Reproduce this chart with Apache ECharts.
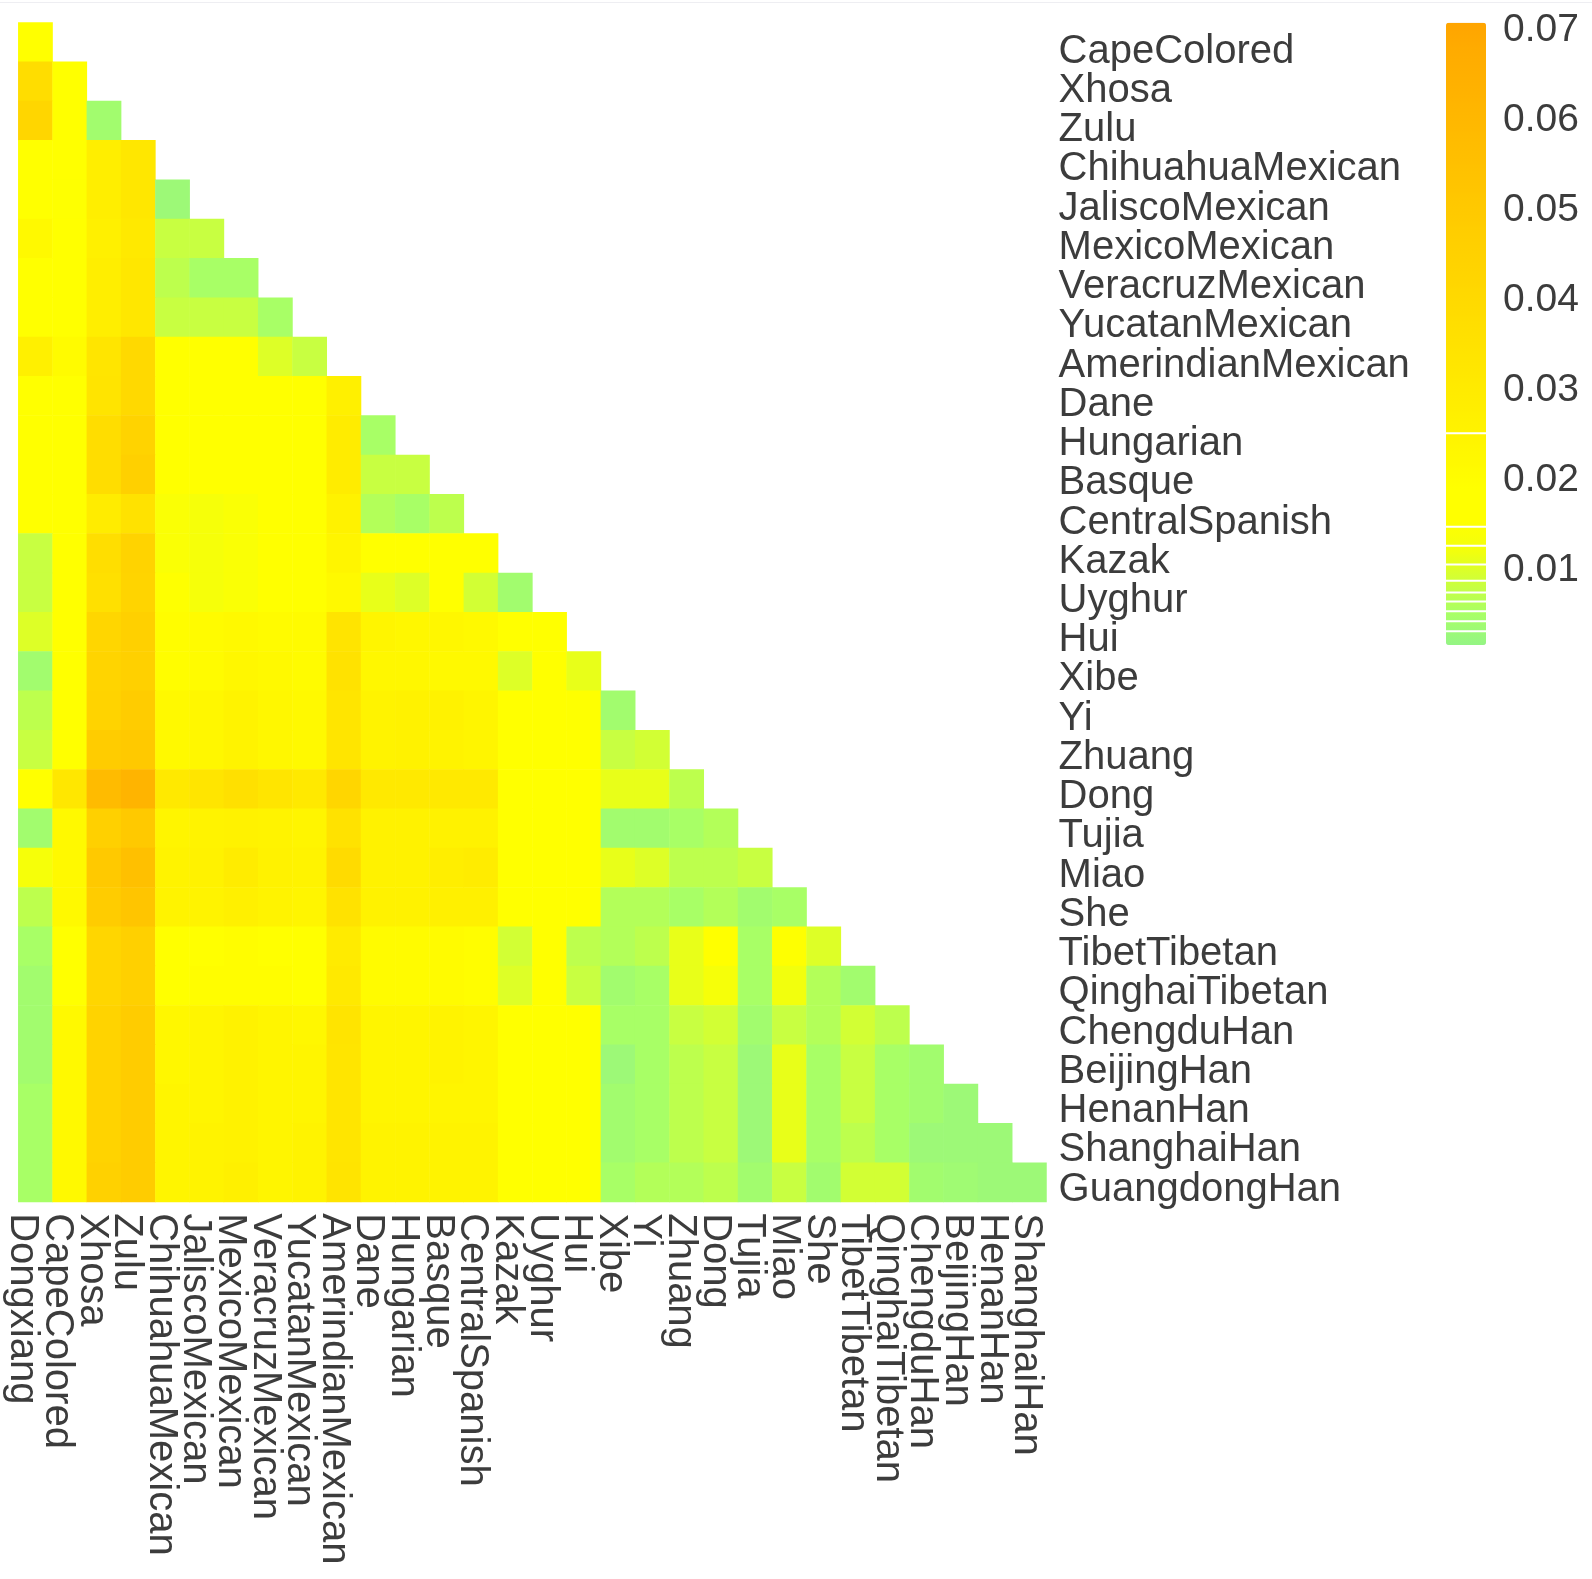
<!DOCTYPE html>
<html><head><meta charset="utf-8">
<style>html,body{margin:0;padding:0;background:#fff}#c{width:1592px;height:1579px}</style>
<script src="https://cdn.jsdelivr.net/npm/echarts@6/dist/echarts.min.js"></script>
</head><body><div id="c"></div>
<script>
const xLabels = ["Dongxiang","CapeColored","Xhosa","Zulu","ChihuahuaMexican","JaliscoMexican","MexicoMexican","VeracruzMexican","YucatanMexican","AmerindianMexican","Dane","Hungarian","Basque","CentralSpanish","Kazak","Uyghur","Hui","Xibe","Yi","Zhuang","Dong","Tujia","Miao","She","TibetTibetan","QinghaiTibetan","ChengduHan","BeijingHan","HenanHan","ShanghaiHan"];
const yLabels = ["CapeColored","Xhosa","Zulu","ChihuahuaMexican","JaliscoMexican","MexicoMexican","VeracruzMexican","YucatanMexican","AmerindianMexican","Dane","Hungarian","Basque","CentralSpanish","Kazak","Uyghur","Hui","Xibe","Yi","Zhuang","Dong","Tujia","Miao","She","TibetTibetan","QinghaiTibetan","ChengduHan","BeijingHan","HenanHan","ShanghaiHan","GuangdongHan"];
// Pairwise values in thousandths, one lower-triangle row per y label
const fstRows = [
[18],
[38,17],
[42,17,4],
[17,17,28,32],
[18,15,28,32,3],
[22,16,27,31,8,8],
[19,17,28,32,7,5,5],
[19,17,28,32,8,8,8,5],
[27,21,33,40,16,16,16,10,8],
[17,16,34,40,16,17,18,18,18,27],
[17,16,38,44,16,18,18,18,18,29,5],
[17,16,38,46,16,18,18,17,17,29,8,8],
[18,17,29,35,14,13,14,17,17,26,6,5,7],
[8,17,37,44,14,13,14,17,17,24,17,17,17,16],
[8,17,36,43,15,13,14,17,17,22,11,10,16,9,4],
[10,17,42,46,20,21,22,21,21,34,24,23,23,22,19,18],
[4,17,43,46,20,21,23,22,21,35,23,23,22,22,10,16,11],
[7,18,44,48,22,23,25,23,22,33,25,26,26,24,18,17,15,4],
[8,18,48,50,22,23,25,23,22,33,25,26,25,24,18,17,16,8,9],
[16,32,58,62,31,33,36,33,31,42,31,31,31,31,18,18,18,11,11,7],
[4,22,46,50,24,25,26,25,24,35,26,26,26,26,18,18,18,4,4,5,6],
[13,22,50,55,25,26,29,26,25,39,26,26,28,29,19,18,17,11,10,7,7,8],
[7,22,48,52,25,25,27,25,24,35,26,26,27,27,18,18,17,6,6,5,6,4,5],
[5,18,42,46,17,18,20,19,17,30,21,21,21,20,9,16,7,6,7,11,16,5,15,10],
[4,18,42,46,18,20,20,20,18,31,21,21,21,20,10,16,8,4,5,11,13,5,12,6,4],
[4,22,44,48,23,24,26,24,23,34,24,24,25,24,17,17,16,5,5,8,9,4,8,6,9,7],
[4,22,44,48,23,24,26,24,24,33,24,24,25,24,17,17,16,3,5,7,8,3,11,5,8,5,4],
[5,22,44,48,24,24,26,24,24,33,24,24,24,24,18,17,17,4,5,7,8,3,11,5,8,5,4,3],
[5,22,44,48,24,25,26,24,25,33,25,25,25,25,18,18,17,4,5,7,8,3,11,5,7,5,3,3,3],
[5,22,45,48,24,25,27,24,25,34,25,25,25,25,18,18,18,5,6,6,7,4,8,4,9,9,4,3.5,3,3]
];
const legendTicks = [0.01,0.02,0.03,0.04,0.05,0.06,0.07];
const legendGaps = [0.0032,0.0043,0.0054,0.0065,0.0075,0.0088,0.0106,0.0127,0.0148,0.0252];
const colorStops = ["#94F584","#A8FF66","#CCFF3C","#F2FF0D","#FFFF00","#FFFF00","#FFF800","#FFF200","#FFEC00","#FFE600","#FFE000","#FFDA00","#FFD400","#FFCF00","#FFC900","#FFC300","#FFBD00","#FFB700","#FFB100","#FFAC00","#FFA500"];

const cells = [];
fstRows.forEach((row, r) => row.forEach((v, c) => cells.push([c, r, v / 1000])));

const font = "Liberation Sans, Arial, sans-serif";
const labelColor = "#3c3c3c";
const chart = echarts.init(document.getElementById("c"), null, {renderer: "canvas"});
chart.setOption({
  animation: false,
  backgroundColor: "#fff",
  tooltip: {show: false},
  grid: [
    {left: 18.3, top: 22.4, width: 1028.2, height: 1179.6},
    {left: 5, top: 32, width: 1038.6, height: 1177.2},
    {left: 1446, top: 30.5, width: 40, height: 629.4}
  ],
  xAxis: [
    {type: "category", gridIndex: 0, data: xLabels, axisLine: {show: false}, axisTick: {show: false}, axisLabel: {show: false}, splitLine: {show: false}},
    {type: "category", gridIndex: 1, data: xLabels, axisLine: {show: false}, axisTick: {show: false}, splitLine: {show: false},
      axisLabel: {interval: 0, rotate: -90, margin: 4, fontSize: 40, fontFamily: font, color: labelColor}},
    {type: "value", gridIndex: 2, min: 0, max: 1, show: false}
  ],
  yAxis: [
    {type: "category", gridIndex: 0, inverse: true, data: yLabels, axisLine: {show: false}, axisTick: {show: false}, axisLabel: {show: false}, splitLine: {show: false}},
    {type: "category", gridIndex: 1, inverse: true, position: "right", data: yLabels, axisLine: {show: false}, axisTick: {show: false}, splitLine: {show: false},
      axisLabel: {interval: 0, margin: 15, fontSize: 40, fontFamily: font, color: labelColor}},
    {type: "value", gridIndex: 2, position: "right", min: 0, max: 0.07, interval: 0.01, axisLine: {show: false}, axisTick: {show: false}, splitLine: {show: false},
      axisLabel: {margin: 17, fontSize: 39, fontFamily: font, color: labelColor,
        formatter: v => legendTicks.some(t => Math.abs(t - v) < 1e-6) ? v.toFixed(2) : ""}}
  ],
  visualMap: {
    type: "continuous", seriesIndex: 0, dimension: 2,
    min: 0.0015, max: 0.0707, calculable: false, realtime: false,
    left: 1446, top: 22.8, itemWidth: 40, itemHeight: 622.2, padding: 0,
    text: null, inRange: {color: colorStops}, hoverLink: false
  },
  series: [
    {type: "heatmap", xAxisIndex: 0, yAxisIndex: 0, data: cells, progressive: 0, itemStyle: {borderWidth: 0}, emphasis: {disabled: true}},
    {type: "custom", xAxisIndex: 2, yAxisIndex: 2, z: 10, silent: true,
      data: legendGaps.map(v => [0, v]),
      encode: {x: 0, y: 1},
      renderItem: (params, api) => {
        const p0 = api.coord([0, api.value(1)]);
        const p1 = api.coord([1, api.value(1)]);
        return {type: "rect", shape: {x: p0[0], y: p0[1] - 1, width: p1[0] - p0[0], height: 2}, style: {fill: "#fff"}};
      }}
  ],
  graphic: [{type: "rect", silent: true, shape: {x: 0, y: 2, width: 1592, height: 1}, style: {fill: "#eeeef2"}}]
});
</script></body></html>
